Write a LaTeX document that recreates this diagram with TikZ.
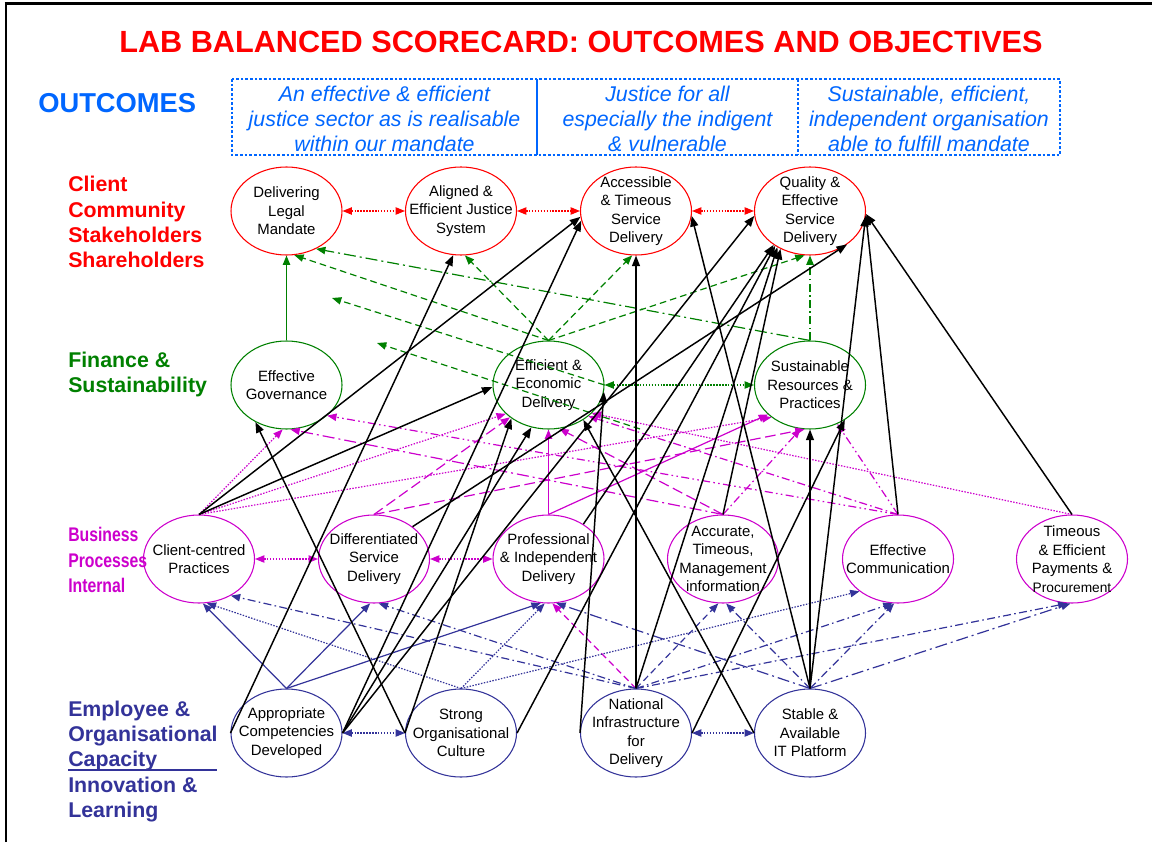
\documentclass[tikz,border=0pt]{standalone}
\usepackage{fontspec}
\setmainfont{Liberation Sans}
\newfontfamily\narrowsans{Liberation Sans}[FakeStretch=0.8]
\usetikzlibrary{arrows.meta,shapes.geometric}

\definecolor{titlered}{RGB}{255,0,0}
\definecolor{outblue}{RGB}{0,102,255}
\definecolor{fingreen}{RGB}{0,128,0}
\definecolor{bizmag}{RGB}{204,0,204}
\definecolor{empnavy}{RGB}{51,51,153}

\begin{document}
\begin{tikzpicture}[x=0.75pt,y=-0.75pt,
  obj/.style={ellipse,draw,line width=0.8pt,minimum width=83.25pt,minimum height=66pt,inner sep=0pt},
  objtxt/.style={align=center,inner sep=0pt,font=\fontsize{11.2}{13.9}\selectfont,text=black},
  redobj/.style={obj,draw=titlered},
  grnobj/.style={obj,draw=fingreen},
  magobj/.style={obj,draw=bizmag},
  navobj/.style={obj,draw=empnavy},
  rowlbl/.style={anchor=west,align=left,inner sep=0pt,font=\fontsize{16}{18.9}\selectfont\bfseries},
  outtxt/.style={align=center,inner sep=0pt,text=outblue,font=\fontsize{16}{18.5}\selectfont\itshape},
  tip/.style={-{Triangle[length=7pt,width=5.5pt]}},
  dtip/.style={{Triangle[length=7pt,width=5.5pt]}-{Triangle[length=7pt,width=5.5pt]}},
  blk/.style={-{Triangle[length=8pt,width=6pt]},draw=black,line width=1.1pt},
  rlink/.style={dtip,draw=titlered,line width=0.9pt},
  glink/.style={tip,draw=fingreen,line width=0.9pt},
  mlink/.style={tip,draw=bizmag,line width=0.9pt},
  nlink/.style={tip,draw=empnavy,line width=0.9pt},
  pdot/.style={dash pattern=on 1.1pt off 1.1pt},
  pdash/.style={dash pattern=on 5pt off 3pt},
  plong/.style={dash pattern=on 8pt off 3.5pt},
  pdd/.style={dash pattern=on 6pt off 2.5pt on 1.2pt off 2.5pt},
  pddd/.style={dash pattern=on 6pt off 2.5pt on 1.2pt off 2.5pt on 1.2pt off 2.5pt},
  plongdd/.style={dash pattern=on 9pt off 3pt on 1.5pt off 3pt}
]
\useasboundingbox (0,0) rectangle (1152,842);

% frame
\draw[line width=1.5pt] (5.5,842) -- (5.5,3.5);
\draw[line width=2pt] (4.5,3.5) -- (1152,3.5);

% heading
\node[inner sep=0pt,text=titlered,font=\fontsize{23}{27}\selectfont\bfseries] (title) at (581,42)
  {LAB BALANCED SCORECARD: OUTCOMES AND OBJECTIVES};

% outcomes band
\node[anchor=west,inner sep=0pt,text=outblue,font=\fontsize{20.5}{24}\selectfont\bfseries] (outlbl) at (38,103) {OUTCOMES};
\draw[outblue,line width=0.8pt,dash pattern=on 2pt off 1.5pt] (232,79) rectangle (1060,155);
\draw[outblue,line width=0.8pt] (537,79) -- (537,155);
\draw[outblue,line width=0.8pt,dash pattern=on 2pt off 1.5pt] (798,79) -- (798,155);
\node[outtxt] (out1) at (384.5,119) {An effective \& efficient\\justice sector as is realisable\\within our mandate};
\node[outtxt] (out2) at (667.5,119) {Justice for all\\especially the indigent\\\& vulnerable};
\node[outtxt] (out3) at (929,119) {Sustainable, efficient,\\independent organisation\\able to fulfill mandate};

% perspective labels
\node[rowlbl,text=titlered] (lblclient) at (68,222) {Client\\Community\\Stakeholders\\Shareholders};
\node[rowlbl,text=fingreen] (lblfin) at (68,374.5) {Finance \&\\Sustainability};
\node[rowlbl,text=bizmag,font=\fontsize{14.8}{18.9}\selectfont\narrowsans\bfseries] (lblbiz) at (68,560) {Business\\Processes\\Internal};
\node[rowlbl,text=empnavy] (lblemp) at (68,761.5) {Employee \&\\Organisational\\Capacity\\Innovation \&\\Learning};
\draw[empnavy,line width=0.8pt] (68,770) -- (217,770);

% objectives: client row
\node[redobj] (DLM) at (286.5,211) {};
\node[redobj] (AEJS) at (461,211) {};
\node[redobj] (ATSD) at (636,211) {};
\node[redobj] (QESD) at (810,211) {};
% finance row
\node[grnobj] (EG) at (286.5,385) {};
\node[grnobj] (EED) at (548.5,385) {};
\node[grnobj] (SRP) at (810,385) {};
% internal process row
\node[magobj] (CCP) at (199,559) {};
\node[magobj] (DSD) at (374,559) {};
\node[magobj] (PID) at (548.5,559) {};
\node[magobj] (ATMI) at (723,559) {};
\node[magobj] (EC) at (898,559) {};
\node[magobj] (TEPP) at (1072,559) {};
% learning row
\node[navobj] (ACD) at (286.5,733) {};
\node[navobj] (SOC) at (461,733) {};
\node[navobj] (NID) at (636,733) {};
\node[navobj] (SAIT) at (810,733) {};

% objective texts
\node[objtxt] (DLMt) at (DLM) {Delivering\\Legal\\Mandate};
\node[objtxt] (AEJSt) at (AEJS) {Aligned \&\\Efficient Justice\\System};
\node[objtxt] (ATSDt) at (ATSD) {Accessible\\\& Timeous\\Service\\Delivery};
\node[objtxt] (QESDt) at (QESD) {Quality \&\\Effective\\Service\\Delivery};
\node[objtxt] (EGt) at (EG) {Effective\\Governance};
\node[objtxt] (EEDt) at (EED) {Efficient \&\\Economic\\Delivery};
\node[objtxt] (SRPt) at (SRP) {Sustainable\\Resources \&\\Practices};
\node[objtxt] (CCPt) at (CCP) {Client-centred\\Practices};
\node[objtxt] (DSDt) at (DSD) {Differentiated\\Service\\Delivery};
\node[objtxt] (PIDt) at (PID) {Professional\\\& Independent\\Delivery};
\node[objtxt] (ATMIt) at (ATMI) {Accurate,\\Timeous,\\Management\\information};
\node[objtxt] (ECt) at (EC) {Effective\\Communication};
\node[objtxt] (TEPPt) at (TEPP) {Timeous\\\& Efficient\\Payments \&\\{\fontsize{10.3}{13.9}\selectfont Procurement}};
\node[objtxt] (ACDt) at (ACD) {Appropriate\\Competencies\\Developed};
\node[objtxt] (SOCt) at (SOC) {Strong\\Organisational\\Culture};
\node[objtxt] (NIDt) at (NID) {National\\Infrastructure\\for\\Delivery};
\node[objtxt] (SAITt) at (SAIT) {Stable \&\\Available\\IT Platform};

% loose ends of two finance links
\coordinate (gA) at (332,298);
\coordinate (gB) at (640,429);
\coordinate (gC) at (377,343);

% client row links
\draw[rlink,pdot] (DLM.east) -- (AEJS.west);
\draw[rlink,pdot] (AEJS.east) -- (ATSD.west);
\draw[rlink,pdot] (ATSD.east) -- (QESD.west);

% finance links
\draw[glink] (EG.north) -- (DLM.south);
\draw[glink,pdd] (SRP.north) -- (QESD.south);
\draw[glink,pdash] (EED.north) -- (DLM.-80);
\draw[glink,pdash] (EED.north) -- (AEJS.-85);
\draw[glink,pdash] (EED.north) -- (ATSD.-95);
\draw[glink,pdash] (EED.north) -- (QESD.-97);
\draw[glink,plongdd] (SRP.north) -- (DLM.-52);
\draw[glink,pdash] (EED.east) -- (gA);
\draw[glink,pdash] (gB) -- (gC);
\draw[glink,pdot,dtip] (EED.east) -- (SRP.west);

% internal process links
\draw[mlink,pdot] (CCP.north) -- (EG.-95);
\draw[mlink,pdot] (CCP.north) -- (EED.-146);
\draw[mlink,pdot] (CCP.north) -- (SRP.-140);
\draw[mlink,pdot,dtip] (CCP.east) -- (DSD.west);
\draw[mlink,pdot,dtip] (DSD.east) -- (PID.west);
\draw[mlink,plong] (DSD.north) -- (EED.-140);
\draw[mlink,plong] (DSD.north) -- (SRP.-97);
\draw[mlink] (PID.north) -- (EED.south);
\draw[mlink] (PID.north) -- (SRP.-145);
\draw[mlink,plongdd] (ATMI.north) -- (EG.-85);
\draw[mlink,pdd] (ATMI.north) -- (SRP.-102);
\draw[mlink,plong] (ATMI.north) -- (EED.-76);
\draw[mlink,pddd] (EC.north) -- (EG.-37);
\draw[mlink,pdd] (EC.north) -- (EED.-38);
\draw[mlink,pddd] (EC.north) -- (SRP.-55);
\draw[mlink,pdot] (TEPP.north) -- (EED.-33);
\draw[mlink,pdash] (NID.north) -- (PID.-85);

% learning links
\draw[nlink] (ACD.north) -- (CCP.-85);
\draw[nlink] (ACD.north) -- (DSD.-95);
\draw[nlink] (ACD.north) -- (PID.-100);
\draw[nlink,pdot,dtip] (ACD.east) -- (SOC.west);
\draw[nlink,pdot] (SOC.north) -- (CCP.-80);
\draw[nlink,pdot] (SOC.north) -- (PID.-95);
\draw[nlink,pdot] (SOC.north) -- (EC.-140);
\draw[nlink,pdd] (NID.north) -- (CCP.-49);
\draw[nlink,pdd] (NID.north) -- (DSD.-84);
\draw[nlink,pdash] (NID.north) -- (ATMI.-96);
\draw[nlink,pdd] (NID.north) -- (EC.-97);
\draw[nlink,pdd] (NID.north) -- (TEPP.-96);
\draw[nlink,pdot,dtip] (NID.east) -- (SAIT.west);
\draw[nlink,plongdd] (SAIT.north) -- (PID.-80);
\draw[nlink,pdd] (SAIT.north) -- (ATMI.-86);
\draw[nlink,pdd] (SAIT.north) -- (EC.-95);
\draw[nlink,plongdd] (SAIT.north) -- (TEPP.-92);

% cross-perspective causal links
\draw[blk] (SOC.west) -- (EG.-130);
\draw[blk] (CCP.north) -- (ATSD.186);
\draw[blk] (CCP.north) -- (EED.182);
\draw[blk] (ACD.west) -- (AEJS.-100);
\draw[blk] (ACD.east) -- (ATSD.190);
\draw[blk] (ACD.east) -- (QESD.185);
\draw[blk] (ACD.east) -- (EED.-112);
\draw[blk] (SOC.west) -- (EED.-138);
\draw[blk] (SOC.east) -- (QESD.-135);
\draw[blk] (NID.north) -- (ATSD.south);
\draw[blk] (NID.north) -- (QESD.-132);
\draw[blk] (NID.west) -- (EED.-7);
\draw[blk] (NID.east) -- (SRP.-45);
\draw[blk] (SAIT.north) -- (ATSD.-5);
\draw[blk] (SAIT.north) -- (SRP.south);
\draw[blk] (SAIT.north) -- (QESD.-5);
\draw[blk] (SAIT.west) -- (EED.-45);
\draw[blk] (ATMI.north) -- (QESD.-128);
\draw[blk] (EC.north) -- (QESD.-4);
\draw[blk] (TEPP.north) -- (QESD.-3);
\draw[blk] (DSD.40) -- (QESD.-42);
\draw[blk] (PID.45) -- (QESD.-137);
\end{tikzpicture}
\end{document}
